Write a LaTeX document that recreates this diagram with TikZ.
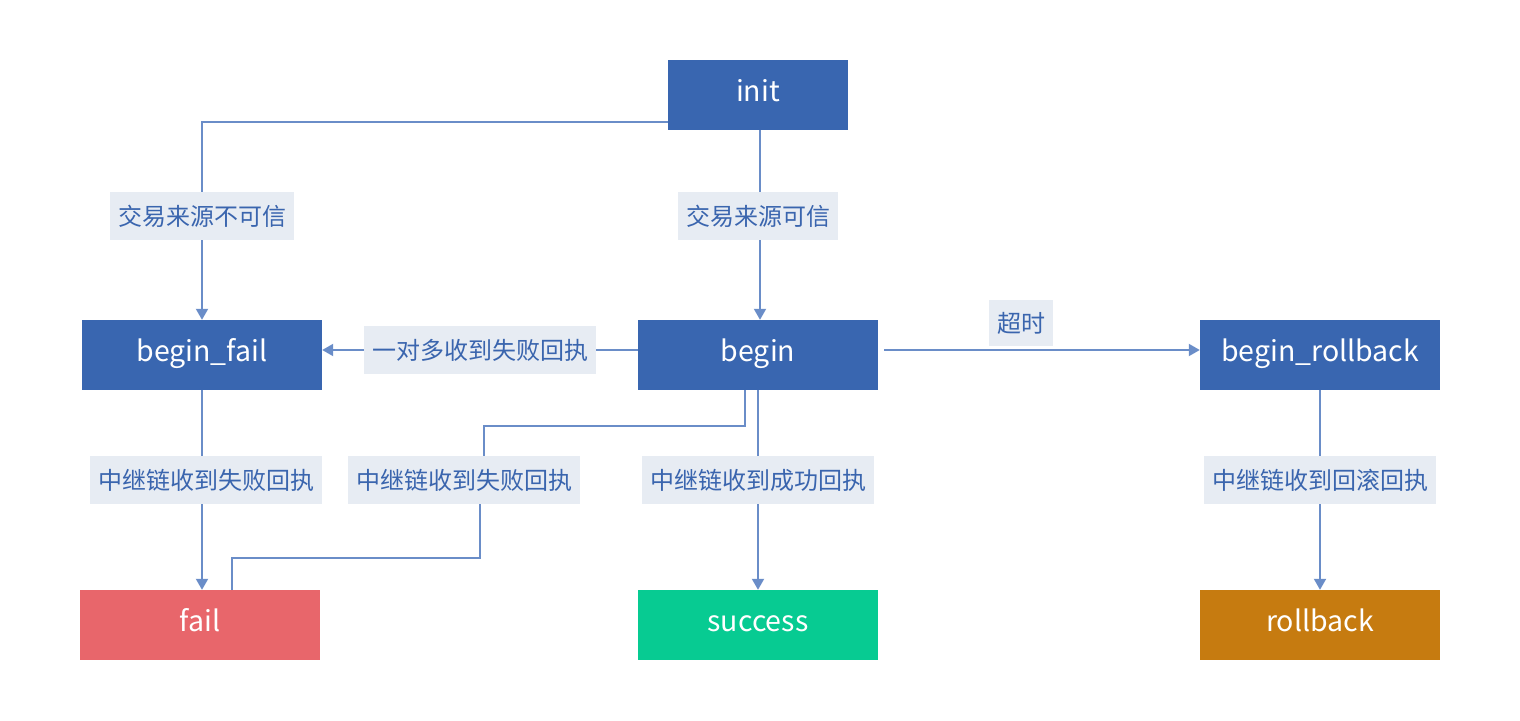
\documentclass[tikz,border=0pt]{standalone}
\usepackage{fontspec}
\setmainfont{Noto Sans CJK SC}
\usetikzlibrary{arrows.meta}
\definecolor{boxblue}{HTML}{3966B0}
\definecolor{lblbg}{HTML}{E7ECF3}
\definecolor{lbltext}{HTML}{3A65AE}
\definecolor{linec}{HTML}{6A8DC8}
\definecolor{failred}{HTML}{E8666B}
\definecolor{succgreen}{HTML}{07CB92}
\definecolor{rborange}{HTML}{C67B10}
\tikzset{
  state/.style={fill=boxblue, text=white, minimum width=240pt, minimum height=70pt,
    inner sep=0pt, text height=20pt, text depth=6.6pt, font=\fontsize{28.5}{32}\selectfont},
  lbl/.style={fill=lblbg, text=lbltext, minimum height=48pt, inner xsep=8pt, inner ysep=0pt,
    font=\fontsize{24}{28}\selectfont},
  conn/.style={draw=linec, line width=2pt},
  arr/.style={conn, -{Triangle[length=11pt,width=12pt]}},
}
\begin{document}
\begin{tikzpicture}[x=1pt,y=-1pt]
\useasboundingbox (0,0) rectangle (1520,720);
\node[state, minimum width=180pt] (init) at (758,95) {init};
\node[state] (bfail) at (202,355) {begin\_fail};
\node[state] (begin) at (758,355) {begin};
\node[state] (brb) at (1320,355) {begin\_rollback};
\node[state, fill=failred] (fail) at (200,625) {fail};
\node[state, fill=succgreen] (succ) at (758,625) {success};
\node[state, fill=rborange] (rb) at (1320,625) {rollback};
% connectors
\draw[arr] ([yshift=8pt]init.south west) -| (bfail.north);
\draw[arr] ([xshift=2pt]init.south) -- ([xshift=2pt]begin.north);
\draw[arr] ([yshift=5pt]begin.west) -- ([yshift=5pt]bfail.east);
\draw[arr, shorten <=6pt] ([yshift=5pt]begin.east) -- ([yshift=5pt]brb.west);
\draw[arr] (bfail.south) -- (bfail.south |- fail.north);
\draw[arr] (begin.south) -- (succ.north);
\draw[arr] (brb.south) -- (rb.north);
% labels
\node[lbl] (l1) at (202,216) {交易来源不可信};
\node[lbl] (l2) at (758,216) {交易来源可信};
\node[lbl] (l3) at (480,350) {一对多收到失败回执};
\node[lbl, minimum height=46pt] (l4) at (1021,323) {超时};
\node[lbl] (l5) at (206,480) {中继链收到失败回执};
\node[lbl] (l6) at (464,480) {中继链收到失败回执};
\node[lbl] (l7) at (758,480) {中继链收到成功回执};
\node[lbl] (l8) at (1320,480) {中继链收到回滚回执};
\draw[conn] ([xshift=-13pt]begin.south) -- ++(0,36) -| ([xshift=20pt]l6.north);
\draw[conn] ([xshift=16pt]l6.south) -- ++(0,54) -| ([xshift=32pt]fail.north);
\end{tikzpicture}
\end{document}
